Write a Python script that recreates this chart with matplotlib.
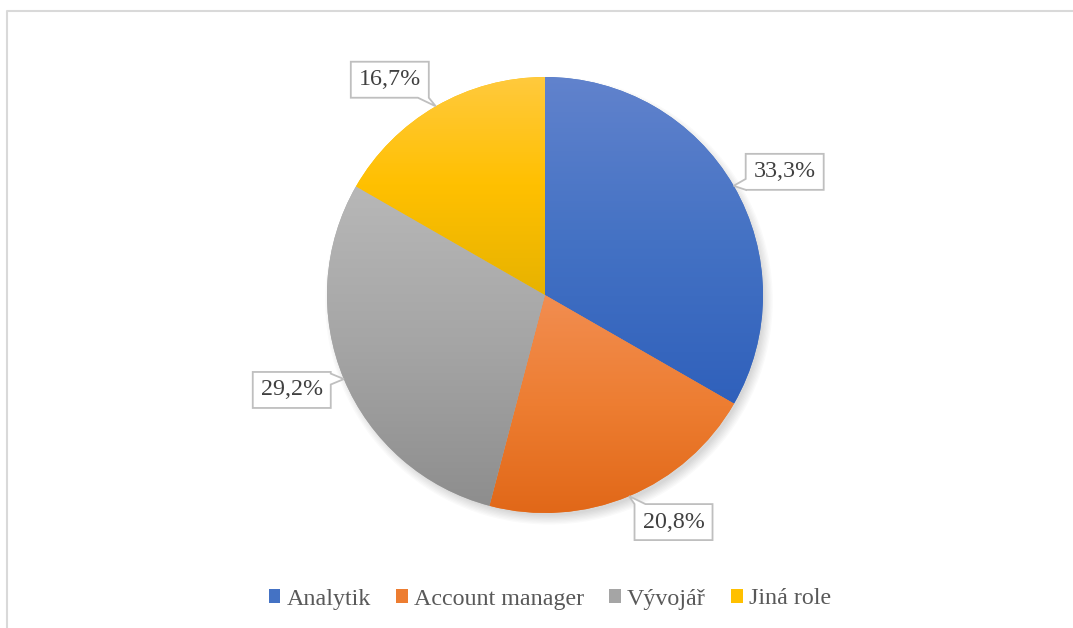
import numpy as np
import matplotlib.pyplot as plt
from matplotlib.patches import Polygon, Patch, Circle
from matplotlib.colors import LinearSegmentedColormap
from matplotlib.lines import Line2D

plt.rcParams['font.family'] = ['Liberation Serif', 'DejaVu Serif']

roles = ['Analytik', 'Account manager', 'Vývojář', 'Jiná role']
shares = [33.3, 20.8, 29.2, 16.7]
labels = ['33,3%', '20,8%', '29,2%', '16,7%']

# gradient colours per slice: top / middle / bottom
grad_colors = [
    ['#6283cd', '#4472c4', '#2f60bb'],
    ['#f28e52', '#ed7d31', '#e06616'],
    ['#b8b8b8', '#a5a5a5', '#8d8d8d'],
    ['#ffca40', '#ffc000', '#e6b200'],
]
legend_colors = ['#4472c4', '#ed7d31', '#a5a5a5', '#ffc000']

# label box offsets from the slice edge (in pie radii)
label_offsets = [(0.234, 0.064), (0.204, -0.119), (-0.239, -0.050), (-0.211, 0.122)]

W, H = 1073, 628
cx_px, cy_px, r_px = 545, 295, 218
fs = 17.3

fig = plt.figure(figsize=(W / 100, H / 100), dpi=100)
ax = fig.add_axes([0, 0, 1, 1])

# soft shadow, mostly bottom right
for i in range(8):
    ax.add_patch(Circle((0.018, -0.026), 0.985 + 0.006 * i, color='black',
                        alpha=0.02, lw=0, zorder=0))

wedges, _ = ax.pie(shares, startangle=90, counterclock=False, radius=1,
                   center=(0, 0), colors=legend_colors,
                   wedgeprops=dict(linewidth=0))

for w, cols in zip(wedges, grad_colors):
    verts = w.get_path().vertices
    ymin, ymax = verts[:, 1].min(), verts[:, 1].max()
    xmin, xmax = verts[:, 0].min(), verts[:, 0].max()
    cmap = LinearSegmentedColormap.from_list('g', cols[::-1])
    grad = np.linspace(0, 1, 256).reshape(-1, 1)
    im = ax.imshow(grad, cmap=cmap, origin='lower', aspect='auto',
                   extent=(xmin - 0.02, xmax + 0.02, ymin - 0.02, ymax + 0.02),
                   zorder=2, interpolation='bicubic')
    im.set_clip_path(w)
    w.set_zorder(1)


def callout(ax, tip, center, w, h, text):
    cx, cy = center
    tx, ty = tip
    l, r, b, t = cx - w / 2, cx + w / 2, cy - h / 2, cy + h / 2
    ox = max(0, abs(tx - cx) - w / 2)
    oy = max(0, abs(ty - cy) - h / 2)
    d = 0.025
    if oy > ox:
        p = min(max(tx, l + d), r - d)
        if ty > cy:
            verts = [(l, b), (r, b), (r, t), (p + d, t), (tx, ty), (p - d, t), (l, t)]
        else:
            verts = [(l, t), (l, b), (p - d, b), (tx, ty), (p + d, b), (r, b), (r, t)]
    else:
        p = min(max(ty, b + d), t - d)
        if tx > cx:
            verts = [(l, b), (r, b), (r, p - d), (tx, ty), (r, p + d), (r, t), (l, t)]
        else:
            verts = [(r, b), (r, t), (l, t), (l, p + d), (tx, ty), (l, p - d), (l, b)]
    ax.add_patch(Polygon(verts, closed=True, facecolor='white', edgecolor='#bfbfbf',
                         lw=1.3, zorder=5))
    ax.text(cx, cy, text, ha='center', va='center', fontsize=fs,
            color='#404040', zorder=6)


bw, bh = 78 / r_px, 36 / r_px
for w, lab, off in zip(wedges, labels, label_offsets):
    mid = np.deg2rad((w.theta1 + w.theta2) / 2)
    tip = (np.cos(mid), np.sin(mid))
    callout(ax, tip, (tip[0] + off[0], tip[1] + off[1]), bw, bh, lab)

ax.set_xlim(-cx_px / r_px, (W - cx_px) / r_px)
ax.set_ylim(-(H - cy_px) / r_px, cy_px / r_px)
ax.set_aspect('equal')
ax.axis('off')

handles = [Patch(facecolor=c, edgecolor='none') for c in legend_colors]
leg = fig.legend(handles, roles, loc='center', bbox_to_anchor=(550 / W, 1 - 599 / H),
                 ncol=4, frameon=False, fontsize=fs, handlelength=0.48,
                 handleheight=0.48, handletextpad=0.26, columnspacing=1.05,
                 labelcolor='#595959')

# chart area border
fig.add_artist(Line2D([7 / W, 7 / W, 1], [0, 1 - 11 / H, 1 - 11 / H],
                      color='#d9d9d9', lw=1.5))

fig.savefig('out.png', dpi=100)
